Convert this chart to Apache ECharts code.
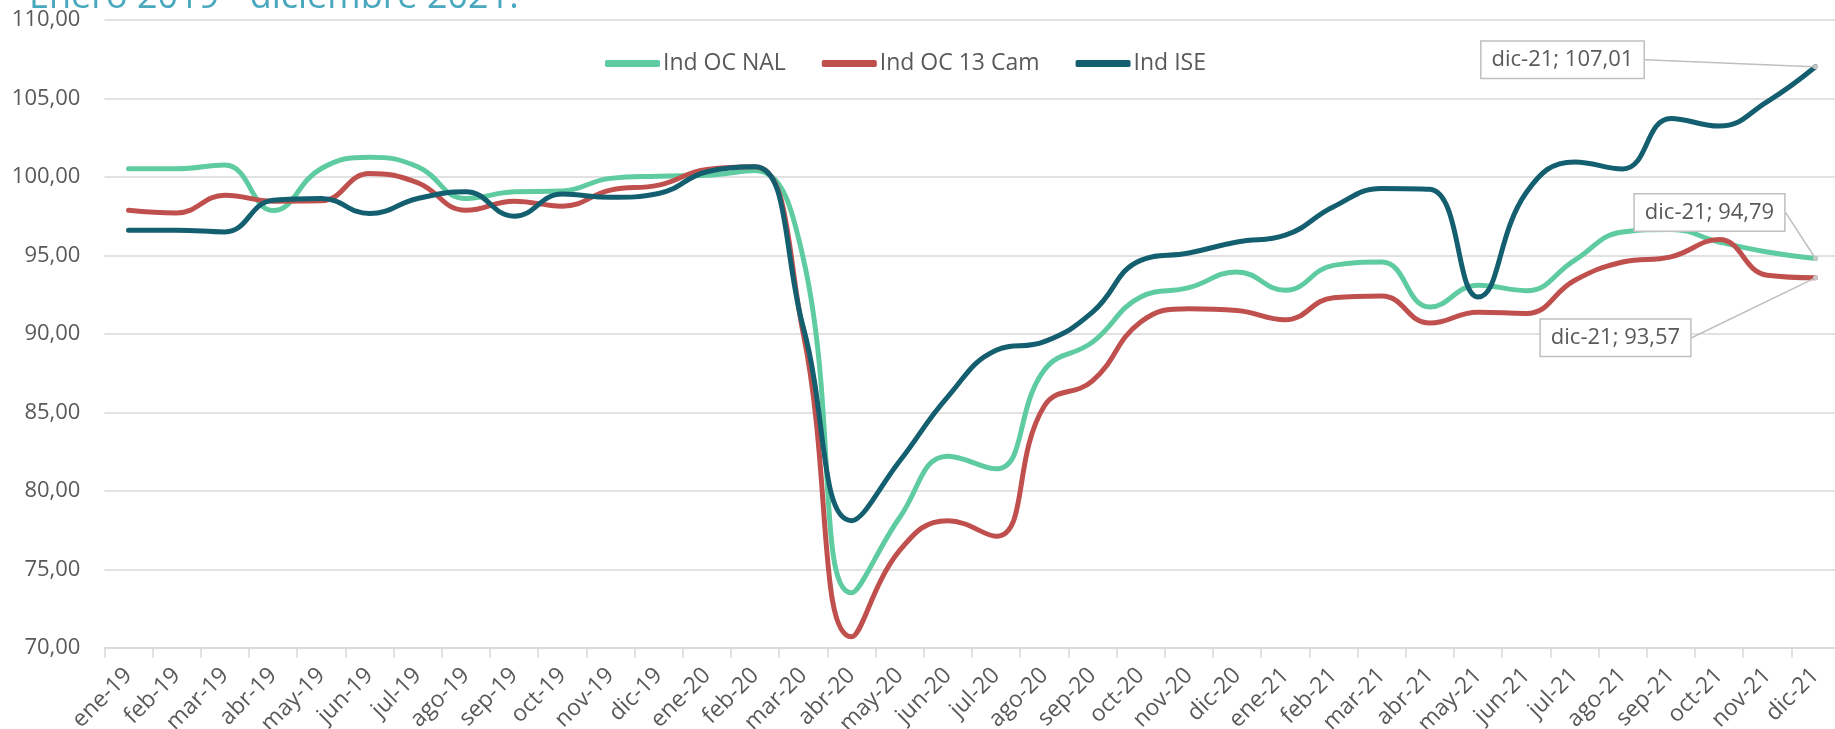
<!DOCTYPE html>
<html>
<head>
<meta charset="utf-8">
<script src="https://cdn.jsdelivr.net/npm/echarts@6/dist/echarts.min.js"></script>
<style>
  html, body { margin: 0; padding: 0; background: #fff; }
  #chart { width: 1835px; height: 729px; }
</style>
</head>
<body>
<div id="chart"></div>
<script>
// categorías (meses)
const months = [
  'ene-19', 'feb-19', 'mar-19', 'abr-19', 'may-19', 'jun-19', 'jul-19', 'ago-19', 'sep-19', 'oct-19', 'nov-19', 'dic-19',
  'ene-20', 'feb-20', 'mar-20', 'abr-20', 'may-20', 'jun-20', 'jul-20', 'ago-20', 'sep-20', 'oct-20', 'nov-20', 'dic-20',
  'ene-21', 'feb-21', 'mar-21', 'abr-21', 'may-21', 'jun-21', 'jul-21', 'ago-21', 'sep-21', 'oct-21', 'nov-21', 'dic-21'
]

const indOcNal = [
  100.51, 100.51, 100.75, 97.85, 100.53, 101.24, 100.64, 98.62, 99.04, 99.10, 99.90, 100.04,
  100.10, 100.40, 94.80, 73.50, 78.30, 82.20, 81.40, 87.70, 89.47, 92.34, 92.94, 93.94,
  92.77, 94.36, 94.57, 91.70, 93.10, 92.75, 94.68, 96.49, 96.65, 95.85, 95.21, 94.79
]

const indOc13Cam = [
  97.87, 97.70, 98.83, 98.45, 98.47, 100.21, 99.62, 97.87, 98.45, 98.13, 99.15, 99.47,
  100.47, 100.64, 90.00, 70.70, 76.20, 78.10, 77.10, 85.40, 87.00, 90.75, 91.60, 91.49,
  90.90, 92.30, 92.40, 90.68, 91.38, 91.30, 93.40, 94.57, 94.90, 96.00, 93.73, 93.57
]

const indIse = [
  96.60, 96.60, 96.49, 98.51, 98.62, 97.66, 98.62, 99.04, 97.49, 98.90, 98.69, 98.94,
  100.32, 100.64, 90.40, 78.10, 81.90, 86.00, 88.95, 89.50, 91.38, 94.68, 95.15, 95.85,
  96.28, 98.09, 99.26, 99.20, 92.34, 99.00, 100.95, 100.50, 103.72, 103.23, 104.79, 107.01
]

const yMin = 70
const yMax = 110
const yStep = 5

const FONT = '"Open Sans", "Noto Sans", sans-serif'
const TEXT_COLOR = '#595959'
const GRID_COLOR = '#D9D9D9'

const fmt = v => v.toFixed(2).replace('.', ',')

// solo el último punto lleva marcador y etiqueta
function withLastLabel(values) {
  const last = values.length - 1
  return values.map((v, i) => {
    if (i !== last) return v
    return {
      value: v,
      symbol: 'circle',
      symbolSize: 5,
      itemStyle: { color: '#C8C8C8' },
      label: { show: true }
    }
  })
}

function makeSeries(name, values, color, offset) {
  return {
    name: name,
    type: 'line',
    data: withLastLabel(values),
    smooth: 0.45,
    symbol: 'none',
    lineStyle: { width: 5, color: color, cap: 'round', join: 'round' },
    itemStyle: { color: color },
    label: {
      position: 'inside',
      formatter: p => p.name + '; ' + fmt(p.value),
      fontFamily: FONT,
      fontSize: 22,
      color: TEXT_COLOR,
      backgroundColor: '#fff',
      borderColor: '#BFBFBF',
      borderWidth: 1.5,
      padding: [7, 10]
    },
    labelLine: {
      show: true,
      lineStyle: { color: '#BFBFBF', width: 1.5 }
    },
    labelLayout: function () {
      return { dx: offset[0], dy: offset[1] }
    },
    emphasis: { disabled: true }
  }
}

const chart = echarts.init(document.getElementById('chart'))
chart.setOption({
  animation: false,
  backgroundColor: '#fff',
  graphic: [{
    type: 'text',
    left: 29,
    top: -20,
    style: {
      text: 'Enero 2019 - diciembre 2021:',
      font: '36px ' + FONT,
      fill: '#4AA8BE'
    }
  }],
  legend: {
    top: 47,
    left: 600,
    icon: 'roundRect',
    itemWidth: 55,
    itemHeight: 7,
    itemGap: 36,
    textStyle: { fontFamily: FONT, fontSize: 23, color: TEXT_COLOR, padding: [0, 0, 0, -2] },
    data: ['Ind OC NAL', 'Ind OC 13 Cam', 'Ind ISE']
  },
  grid: {
    left: 104.4,
    top: 19.8,
    width: 1735.2,
    height: 628,
    containLabel: false,
    outerBoundsMode: 'none'
  },
  xAxis: {
    type: 'category',
    data: months,
    boundaryGap: true,
    axisLine: { lineStyle: { color: GRID_COLOR, width: 1.5 } },
    axisTick: { show: true, length: 10, lineStyle: { color: GRID_COLOR, width: 1.5 } },
    axisLabel: {
      interval: 0,
      rotate: 45,
      margin: 24,
      fontFamily: FONT,
      fontSize: 23,
      color: TEXT_COLOR
    }
  },
  yAxis: {
    type: 'value',
    min: yMin,
    max: yMax,
    interval: yStep,
    axisLine: { show: false },
    axisTick: { show: false },
    splitLine: { lineStyle: { color: GRID_COLOR, width: 1.5 } },
    axisLabel: {
      margin: 24,
      fontFamily: FONT,
      fontSize: 22,
      color: TEXT_COLOR,
      formatter: v => fmt(v)
    }
  },
  series: [
    makeSeries('Ind OC NAL', indOcNal, '#5FCBA0', [-106, -46]),
    makeSeries('Ind OC 13 Cam', indOc13Cam, '#C0504D', [-200, 60]),
    makeSeries('Ind ISE', indIse, '#145F6F', [-253, -7])
  ]
})
</script>
</body>
</html>
